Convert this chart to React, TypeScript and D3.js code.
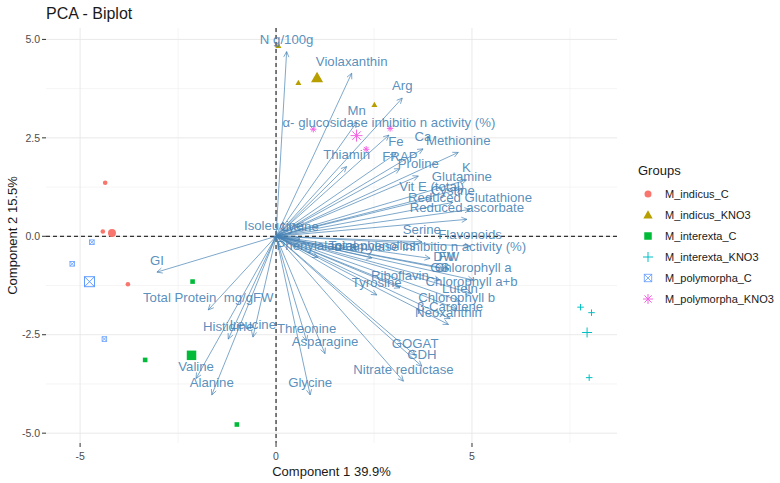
import React from "react";
import * as d3 from "d3";

// ---- Data ----
const groupNames = ["M_indicus_C", "M_indicus_KNO3", "M_interexta_C", "M_interexta_KNO3", "M_polymorpha_C", "M_polymorpha_KNO3"];
const groupColors = ["#F8766D", "#B79F00", "#00BA38", "#00BFC4", "#619CFF", "#F564E3"];
const groupShapes = ["circle", "triangle", "square", "plus", "boxcross", "asterisk"];

// individuals (PC1, PC2)
const indGroup = [0, 0, 0, 1, 1, 1, 2, 2, 2, 3, 3, 3, 4, 4, 4, 5, 5, 5];
const indPC1 = [-4.36, -4.42, -3.78, 0.06, 0.57, 2.51, -2.13, -3.34, -1.0, 7.77, 8.05, 7.99, -4.7, -5.2, -4.38, 0.95, 2.91, 2.3];
const indPC2 = [1.36, 0.12, -1.22, 4.84, 3.9, 3.34, -1.15, -3.14, -4.78, -1.8, -1.94, -3.59, -0.15, -0.7, -2.61, 2.72, 2.74, 2.21];

// variables (arrow tips)
const varNames = [
  "N g/100g", "Violaxanthin", "Arg", "Mn", "α- glucosidase inhibitio n activity (%)", "Fe", "Ca", "Methionine",
  "Thiamin", "FRAP", "Proline", "K", "Glutamine", "Vit E (total)", "Cystine", "Reduced Glutathione",
  "Reduced ascorbate", "Serine", "Flavonoids", "α- amylase inhibitio n activity (%)", "FW", "DW", "GS",
  "Chlorophyll a", "Chlorophyll a+b", "Lutein", "Chlorophyll b", "β-Carotene", "Neoxanthin", "Riboflavin",
  "Tyrosine", "GOGAT", "GDH", "Nitrate reductase", "Glycine", "Asparagine", "Threonine", "Leucine",
  "Histidine", "Valine", "Alanine", "Total Protein  mg/gFW", "GI", "Isoleucine", "Lysine", "Phenylalanine",
  "Total phenolics",
];
const varPC1 = [
  0.27, 1.93, 3.22, 2.06, 2.88, 3.06, 3.75, 4.65,
  1.8, 3.16, 3.63, 4.86, 4.74, 3.97, 4.51, 4.95,
  4.87, 3.72, 4.95, 3.93, 4.41, 4.29, 4.18,
  5.03, 4.99, 4.69, 4.61, 4.44, 4.4, 3.16,
  2.57, 3.55, 3.72, 3.25, 0.87, 1.25, 0.78, -0.59,
  -1.22, -2.04, -1.64, -1.73, -3.04, -0.06, 0.61, 1.07,
  2.45,
];
const varPC2 = [
  4.69, 4.14, 3.51, 2.9, 2.57, 2.1, 2.22, 2.13,
  1.77, 1.72, 1.53, 1.43, 1.21, 0.96, 0.86, 0.68,
  0.43, -0.14, -0.25, -0.56, -0.83, -0.83, -1.11,
  -1.11, -1.45, -1.64, -1.85, -2.09, -2.24, -1.31,
  -1.49, -3.02, -3.3, -3.68, -4.03, -2.98, -2.66, -2.56,
  -2.61, -3.61, -4.03, -1.87, -0.91, -0.04, -0.07, -0.54,
  -0.55,
];

const xMajor = [-5, 0, 5];
const xMinor = [-2.5, 2.5, 7.5];
const yMajor = [-5, -2.5, 0, 2.5, 5];
const yMinor = [-3.75, -1.25, 1.25, 3.75];

const title = "PCA - Biplot";
const xTitle = "Component 1 39.9%";
const yTitle = "Component 2 15.5%";
const legendTitle = "Groups";

// ---- Layout ----
const W = 780, H = 483;
const P = { l: 46, r: 617, t: 28, b: 443 };
const FONT = "'Liberation Sans', Arial, Helvetica, sans-serif";
const VAR_COL = "#4682B4";

function Shape({ type, x, y, s, color }: { type: string; x: number; y: number; s: number; color: string }) {
  const h = s / 2;
  if (type === "circle") return <circle cx={x} cy={y} r={h} fill={color} />;
  if (type === "triangle") {
    const tri = `M${x},${y - h * 1.1} L${x + h * 1.1},${y + h * 0.8} L${x - h * 1.1},${y + h * 0.8} Z`;
    return <path d={tri} fill={color} />;
  }
  if (type === "square") return <rect x={x - h} y={y - h} width={s} height={s} fill={color} />;
  if (type === "plus")
    return (
      <path d={`M${x - h},${y} H${x + h} M${x},${y - h} V${y + h}`} stroke={color} strokeWidth={1} fill="none" />
    );
  if (type === "boxcross")
    return (
      <g stroke={color} strokeWidth={s > 8 ? 1 : 0.8} fill="none">
        <rect x={x - h} y={y - h} width={s} height={s} />
        <path d={`M${x - h},${y - h} L${x + h},${y + h} M${x + h},${y - h} L${x - h},${y + h}`} />
      </g>
    );
  // asterisk
  const d2 = h * 0.72;
  return (
    <path
      d={`M${x - h},${y} H${x + h} M${x},${y - h} V${y + h} M${x - d2},${y - d2} L${x + d2},${y + d2} M${x + d2},${y - d2} L${x - d2},${y + d2}`}
      stroke={color}
      strokeWidth={1}
      fill="none"
    />
  );
}

export default function App() {
  const xs = d3.scaleLinear().domain([-5.87, 8.7]).range([P.l, P.r]);
  const ys = d3.scaleLinear().domain([-5.25, 5.29]).range([P.b, P.t]);

  const means = groupNames.map((_, g) => {
    const idx = indGroup.map((gg, i) => (gg === g ? i : -1)).filter((i) => i >= 0);
    return {
      x: d3.mean(idx, (i) => indPC1[i]) as number,
      y: d3.mean(idx, (i) => indPC2[i]) as number,
    };
  });

  const smallSize = [4.6, 5.5, 4.6, 6.5, 4.6, 6.5];
  const bigSize = [8, 11, 9.5, 10, 10, 12];
  const keySize = [7, 8.5, 7.5, 10, 7.5, 10];

  const x0 = xs(0), y0 = ys(0);

  return (
    <svg width={W} height={H} style={{ position: "absolute", left: 0, top: 0, background: "#fff" }} fontFamily={FONT}>
      <rect width={W} height={H} fill="#fff" />
      {/* grid */}
      {xMinor.map((v) => (
        <line key={"xm" + v} x1={xs(v)} x2={xs(v)} y1={P.t} y2={P.b} stroke="#efefef" strokeWidth={0.6} />
      ))}
      {yMinor.map((v) => (
        <line key={"ym" + v} x1={P.l} x2={P.r} y1={ys(v)} y2={ys(v)} stroke="#efefef" strokeWidth={0.6} />
      ))}
      {xMajor.map((v) => (
        <line key={"xM" + v} x1={xs(v)} x2={xs(v)} y1={P.t} y2={P.b} stroke="#e6e6e6" strokeWidth={0.9} />
      ))}
      {yMajor.map((v) => (
        <line key={"yM" + v} x1={P.l} x2={P.r} y1={ys(v)} y2={ys(v)} stroke="#e6e6e6" strokeWidth={0.9} />
      ))}
      {/* zero lines */}
      <line x1={x0} x2={x0} y1={P.t} y2={P.b} stroke="#000" strokeWidth={1} strokeDasharray="4,3" />
      <line x1={P.l} x2={P.r} y1={y0} y2={y0} stroke="#000" strokeWidth={1} strokeDasharray="4,3" />

      {/* individuals */}
      {indPC1.map((v, i) => (
        <Shape key={"ind" + i} type={groupShapes[indGroup[i]]} x={xs(v)} y={ys(indPC2[i])} s={smallSize[indGroup[i]]} color={groupColors[indGroup[i]]} />
      ))}
      {means.map((m, g) => (
        <Shape key={"mean" + g} type={groupShapes[g]} x={xs(m.x)} y={ys(m.y)} s={bigSize[g]} color={groupColors[g]} />
      ))}

      {/* variable arrows */}
      {varNames.map((n, i) => {
        const tx = xs(varPC1[i]), ty = ys(varPC2[i]);
        const ang = Math.atan2(ty - y0, tx - x0);
        const L = 6, a = Math.PI / 7;
        const p1 = [tx - L * Math.cos(ang - a), ty - L * Math.sin(ang - a)];
        const p2 = [tx - L * Math.cos(ang + a), ty - L * Math.sin(ang + a)];
        return (
          <g key={"arr" + i} stroke={VAR_COL} strokeWidth={0.7} fill="none">
            <line x1={x0} y1={y0} x2={tx} y2={ty} />
            <path d={`M${p1[0]},${p1[1]} L${tx},${ty} L${p2[0]},${p2[1]}`} />
          </g>
        );
      })}
      {varNames.map((n, i) => (
        <text
          key={"lab" + i}
          x={xs(varPC1[i])}
          y={ys(varPC2[i]) - 7.6}
          textAnchor="middle"
          fontSize={13.2}
          fill={VAR_COL}
          fillOpacity={0.9}
          style={{ whiteSpace: "pre" }}
        >
          {n}
        </text>
      ))}

      {/* axes ticks */}
      {xMajor.map((v) => (
        <g key={"xt" + v}>
          <line x1={xs(v)} x2={xs(v)} y1={P.b} y2={P.b + 4} stroke="#333" strokeWidth={1} />
          <text x={xs(v)} y={P.b + 17} textAnchor="middle" fontSize={10.5} fill="#4d4d4d">
            {d3.format("")(v).replace("−", "-")}
          </text>
        </g>
      ))}
      {yMajor.map((v) => (
        <g key={"yt" + v}>
          <line x1={P.l - 4} x2={P.l} y1={ys(v)} y2={ys(v)} stroke="#333" strokeWidth={1} />
          <text x={P.l - 6} y={ys(v) + 3.7} textAnchor="end" fontSize={10.5} fill="#4d4d4d">
            {d3.format(".1f")(v).replace("−", "-")}
          </text>
        </g>
      ))}

      {/* titles */}
      <text x={P.l} y={19} fontSize={16} fill="#1a1a1a">{title}</text>
      <text x={(P.l + P.r) / 2} y={475.5} textAnchor="middle" fontSize={13} fill="#1a1a1a">{xTitle}</text>
      <text transform={`translate(16.5,${(P.t + P.b) / 2}) rotate(-90)`} textAnchor="middle" fontSize={13} fill="#1a1a1a">{yTitle}</text>

      {/* legend */}
      <text x={638} y={174.5} fontSize={13} fill="#1a1a1a">{legendTitle}</text>
      {groupNames.map((g, i) => {
        const cy = 194 + i * 21;
        return (
          <g key={"lg" + i}>
            <Shape type={groupShapes[i]} x={648} y={cy} s={keySize[i]} color={groupColors[i]} />
            <text x={665} y={cy + 4} fontSize={11} fill="#1a1a1a">{g}</text>
          </g>
        );
      })}
    </svg>
  );
}
